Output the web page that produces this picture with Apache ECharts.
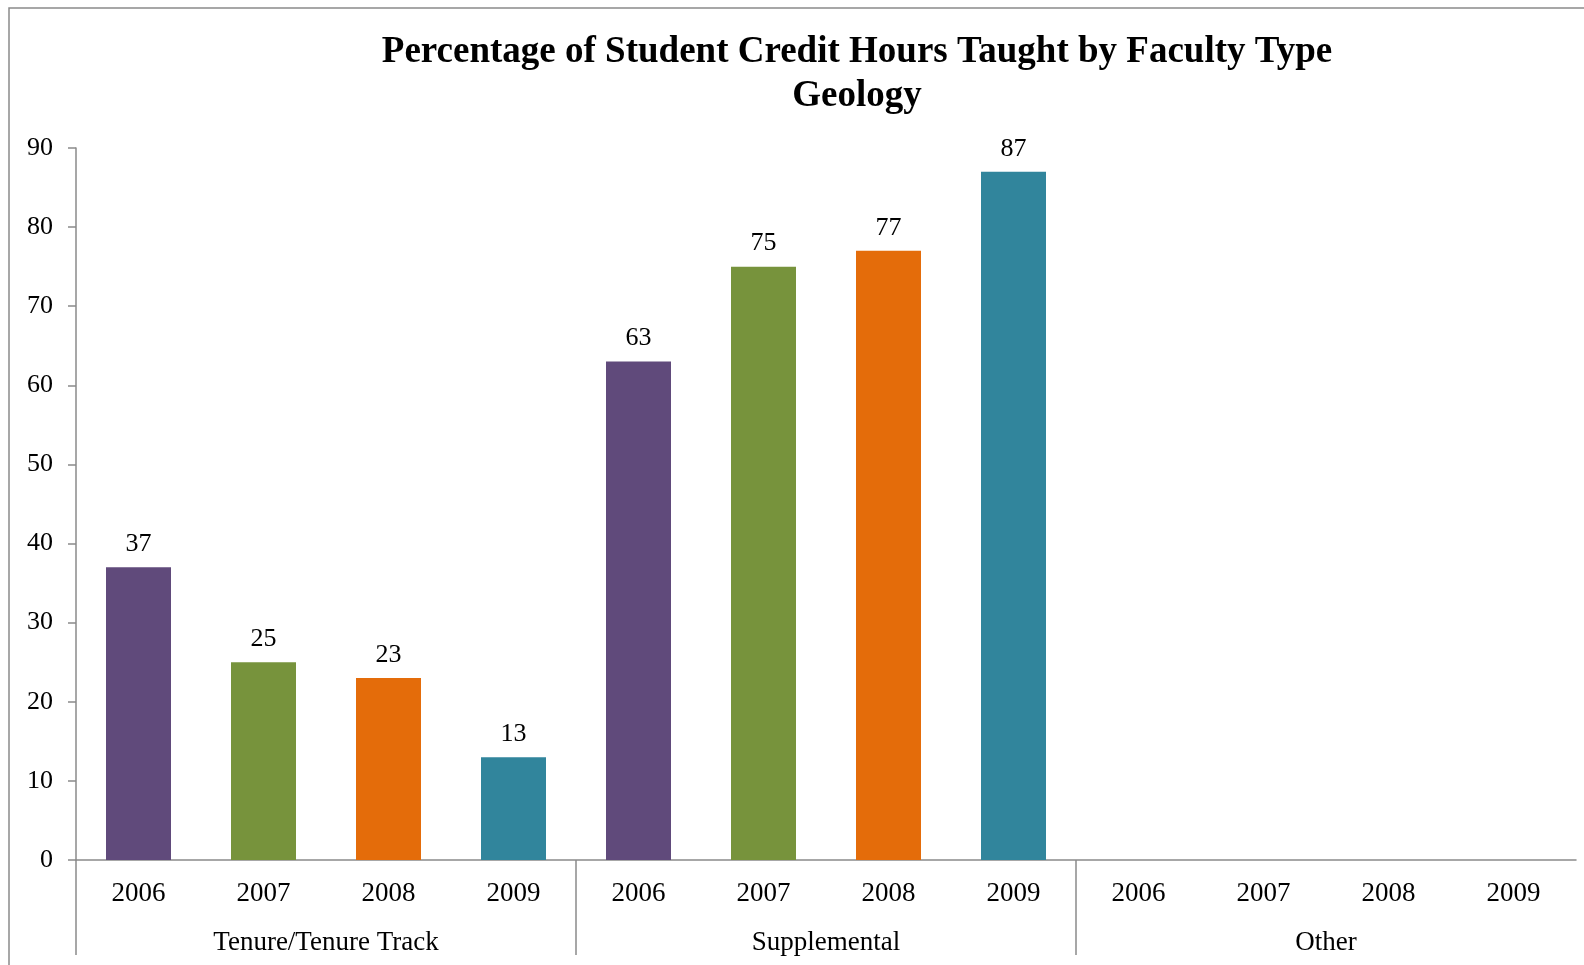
<!DOCTYPE html>
<html>
<head>
<meta charset="utf-8">
<script src="https://cdn.jsdelivr.net/npm/echarts@6/dist/echarts.min.js"></script>
<style>html,body{margin:0;padding:0;background:#fff}#c{width:1584px;height:965px}</style>
</head>
<body>
<div id="c"></div>
<script>
const titleLines = ['Percentage of Student Credit Hours Taught by Faculty Type', 'Geology'];
const groups = ['Tenure/Tenure Track', 'Supplemental', 'Other'];
const years = ['2006', '2007', '2008', '2009'];
const tenure = [37, 25, 23, 13];
const supplemental = [63, 75, 77, 87];
const other = [null, null, null, null];
const yearColors = ['#604A7B', '#77933C', '#E46C0A', '#31859C'];
const yTicks = { min: 0, max: 90, interval: 10 };

const groupValues = [tenure, supplemental, other];
const cats = [];
const barData = [];
groupValues.forEach((vals, g) => {
  years.forEach((y, i) => {
    cats.push(g + '|' + y);
    barData.push({ value: vals[i], itemStyle: { color: yearColors[i] } });
  });
});

const FONT = '"Liberation Serif", "Times New Roman", serif';
const GRAY = '#8a8a8a';
const chart = echarts.init(document.getElementById('c'), null, { renderer: 'canvas' });
chart.setOption({
  animation: false,
  backgroundColor: '#fff',
  graphic: [
    { type: 'rect', shape: { x: 9, y: 8, width: 1700, height: 1100 }, style: { fill: 'none', stroke: GRAY, lineWidth: 1.5 }, silent: true, z: -1 },
    { type: 'text', x: 857, y: 52, style: { text: titleLines[0], font: 'bold 37px ' + FONT, fill: '#000', align: 'center', verticalAlign: 'middle' } },
    { type: 'text', x: 857, y: 96, style: { text: titleLines[1], font: 'bold 37px ' + FONT, fill: '#000', align: 'center', verticalAlign: 'middle' } }
  ],
  grid: [
    { left: 76, right: 8, top: 148, bottom: 105, containLabel: false },
    { left: 76, right: 8, top: 860, height: 95, containLabel: false }
  ],
  xAxis: [
    {
      gridIndex: 0, type: 'category', data: cats,
      axisLine: { show: true, lineStyle: { color: GRAY, width: 1.5 } },
      axisTick: { show: false },
      axisLabel: { color: '#000', fontFamily: FONT, fontSize: 27, margin: 20, interval: 0, formatter: v => v.split('|')[1] }
    },
    {
      gridIndex: 1, type: 'category', data: groups, position: 'top',
      axisLine: { show: false },
      axisTick: { show: false },
      splitLine: { show: true, showMinLine: true, showMaxLine: false, lineStyle: { color: GRAY, width: 1.5 } },
      axisLabel: { inside: true, color: '#000', fontFamily: FONT, fontSize: 27, margin: 69, interval: 0 }
    }
  ],
  yAxis: [
    {
      gridIndex: 0, type: 'value', min: yTicks.min, max: yTicks.max, interval: yTicks.interval,
      axisLine: { show: true, lineStyle: { color: GRAY, width: 1.5 } },
      axisTick: { show: true, length: 8, lineStyle: { color: GRAY, width: 1.5 } },
      splitLine: { show: false },
      axisLabel: { color: '#000', fontFamily: FONT, fontSize: 26, margin: 23, padding: [4, 0, 0, 0] }
    },
    { gridIndex: 1, type: 'value', show: false }
  ],
  series: [
    {
      type: 'bar', xAxisIndex: 0, yAxisIndex: 0, data: barData, barWidth: '52%',
      label: { show: true, position: 'top', distance: 10, color: '#000', fontFamily: FONT, fontSize: 26 }
    }
  ]
});
</script>
</body>
</html>
